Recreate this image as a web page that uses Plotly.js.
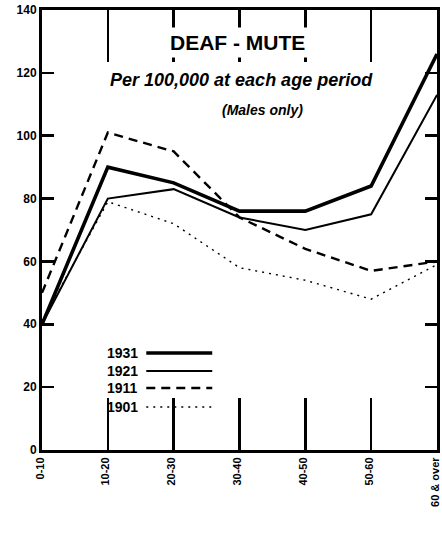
<!DOCTYPE html>
<html>
<head>
<meta charset="utf-8">
<script src="https://cdn.plot.ly/plotly-3.0.1.min.js"></script>
<style>html,body{margin:0;padding:0;background:#fff;}#chart{width:442px;height:543px;}</style>
</head>
<body>
<div id="chart"></div>
<script>
// Age periods (x categories)
const ageGroups = ["0-10", "10-20", "20-30", "30-40", "40-50", "50-60", "60 & over"];
// Deaf-mute per 100,000 at each age period (males only)
const y1931 = [40, 90, 85, 76, 76, 84, 126];
const y1921 = [40, 80, 83, 74, 70, 75, 113];
const y1911 = [50, 101, 95, 74, 64, 57, 60];
const y1901 = [41, 79, 72, 58, 54, 48, 59];
const seriesNames = ["1931", "1921", "1911", "1901"];
const yTicks = [0, 20, 40, 60, 80, 100, 120, 140];

const styles = [
  {width: 3.6, dash: "solid"},
  {width: 2.0, dash: "solid"},
  {width: 2.4, dash: "9px,6px"},
  {width: 1.4, dash: "2px,5px"}
];
const seriesData = [y1931, y1921, y1911, y1901];

const traces = seriesData.map((ys, i) => ({
  x: ageGroups, y: ys, type: "scatter", mode: "lines",
  name: seriesNames[i], showlegend: false,
  line: {color: "#000", width: styles[i].width, dash: styles[i].dash}
}));

const bold = {family: "Liberation Sans, Arial, sans-serif", color: "#000", weight: 700};

// custom legend: label on the left, line sample on the right
const legY = [0.2205, 0.1795, 0.141, 0.0977];
const annotations = [
  {text: "DEAF - MUTE", x: 0.494, y: 0.927, xref: "paper", yref: "paper", showarrow: false,
   xanchor: "center", yanchor: "middle", bgcolor: "#fff", borderpad: 3,
   font: Object.assign({}, bold, {size: 21})},
  {text: "<i>Per 100,000 at each age period</i>", x: 0.506, y: 0.841, xref: "paper", yref: "paper",
   xanchor: "center", yanchor: "middle",
   showarrow: false, font: Object.assign({}, bold, {size: 18})},
  {text: "<i>(Males only)</i>", x: 0.557, y: 0.773, xref: "paper", yref: "paper",
   xanchor: "center", yanchor: "middle",
   showarrow: false, font: Object.assign({}, bold, {size: 14})}
];
const shapes = [];
seriesNames.forEach((n, i) => {
  annotations.push({text: n, x: 0.247, y: legY[i], xref: "paper", yref: "paper",
    xanchor: "right", yanchor: "middle", showarrow: false,
    font: Object.assign({}, bold, {size: 14})});
  shapes.push({type: "line", xref: "paper", yref: "paper", x0: 0.264, x1: 0.431,
    y0: legY[i], y1: legY[i],
    line: {color: "#000", width: styles[i].width, dash: styles[i].dash}});
});

const layout = {
  width: 442, height: 543,
  margin: {l: 42, r: 5, t: 10, b: 93},
  paper_bgcolor: "#fff", plot_bgcolor: "#fff",
  showlegend: false,
  xaxis: {
    type: "category", range: [0, ageGroups.length - 1],
    showgrid: false, zeroline: false,
    showline: true, linecolor: "#000", linewidth: 3, mirror: "ticks",
    ticks: "inside", ticklen: 52, tickwidth: 2.5, tickcolor: "#000",
    tickangle: -90, ticklabelshift: -2, tickfont: Object.assign({}, bold, {size: 11})
  },
  yaxis: {
    range: [0, 140], tickvals: yTicks, ticktext: yTicks.map(String),
    showgrid: false, zeroline: false,
    showline: true, linecolor: "#000", linewidth: 3, mirror: "ticks",
    ticks: "inside", ticklen: 12, tickwidth: 2.5, tickcolor: "#000",
    tickfont: Object.assign({}, bold, {size: 12})
  },
  annotations: annotations,
  shapes: shapes
};

Plotly.newPlot("chart", traces, layout, {staticPlot: true, displayModeBar: false});
</script>
</body>
</html>
